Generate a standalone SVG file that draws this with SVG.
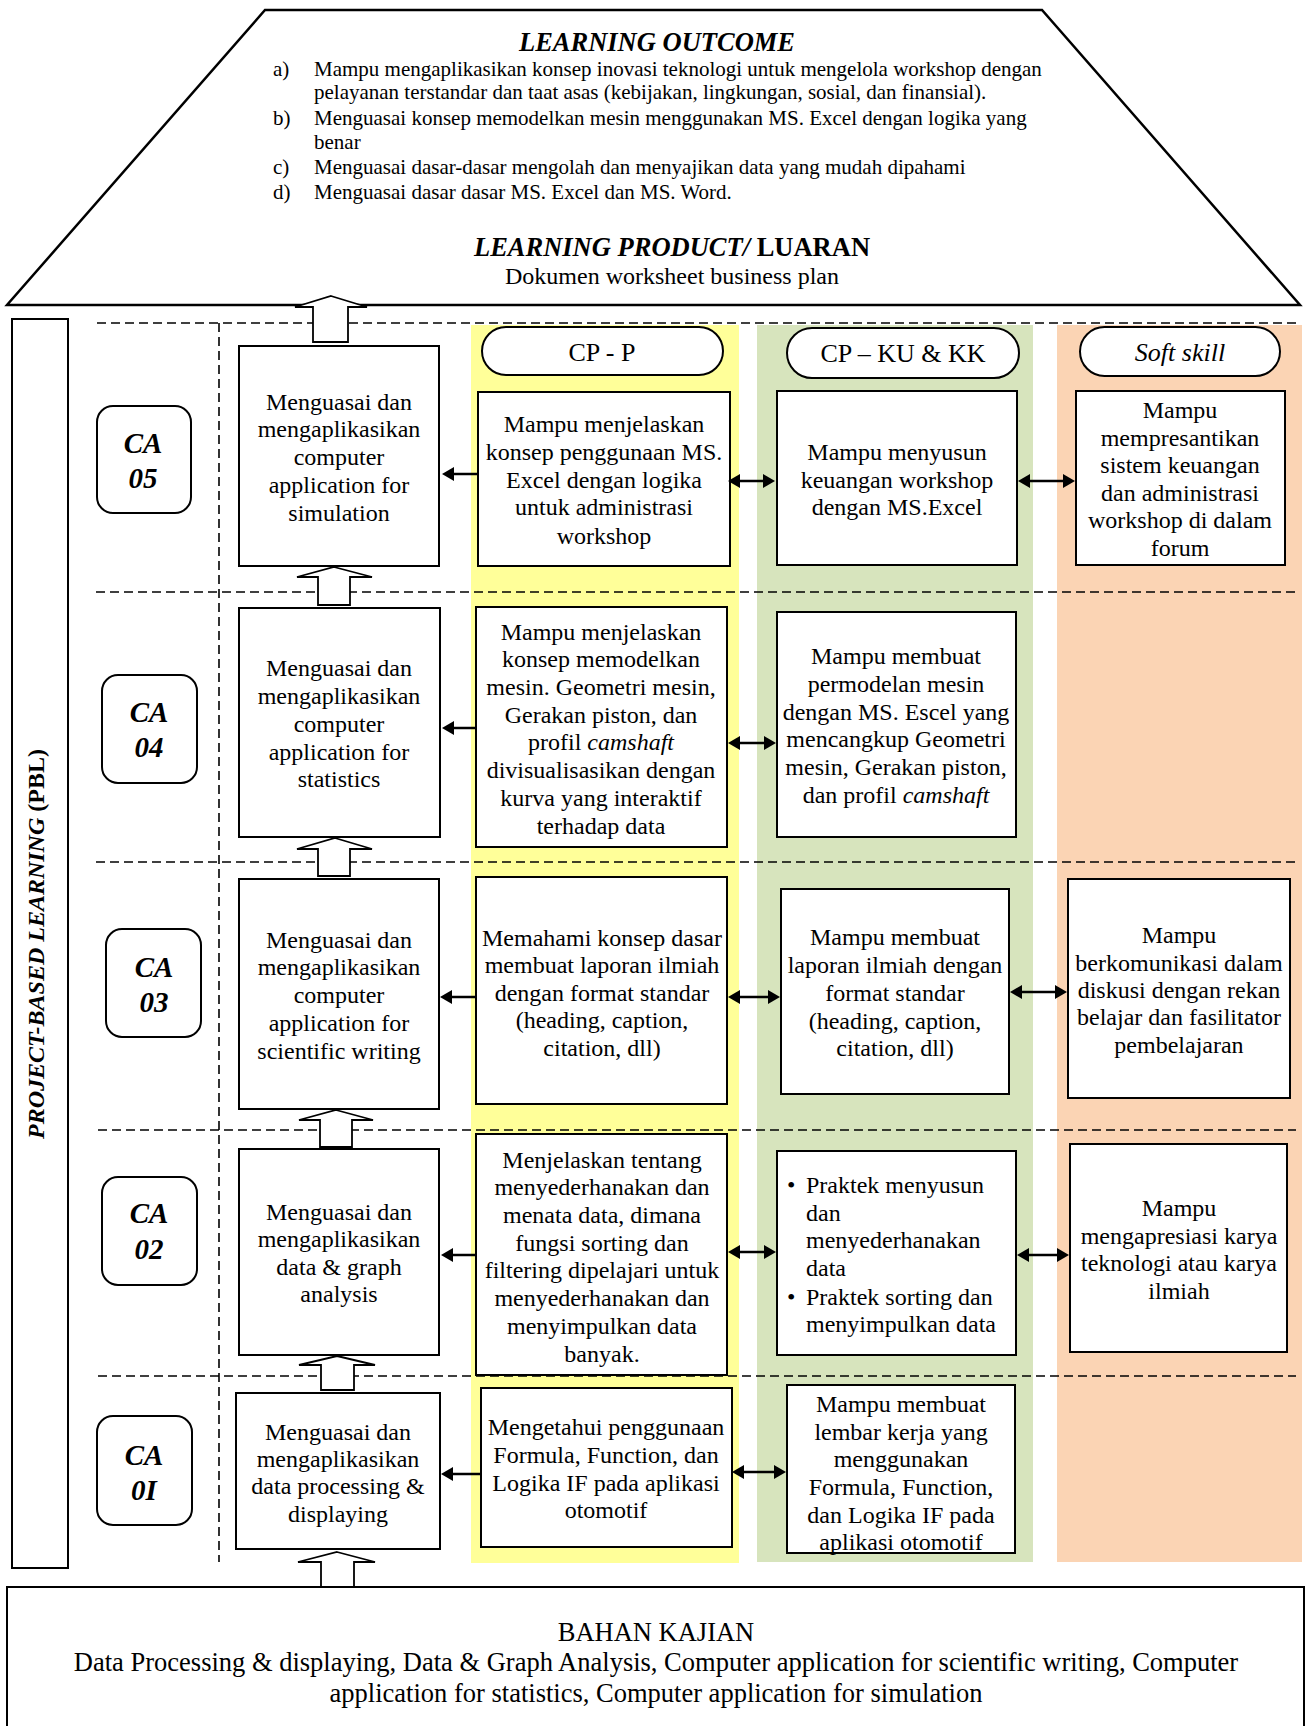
<svg xmlns="http://www.w3.org/2000/svg" width="1306" height="1726" viewBox="0 0 1306 1726">
<style>
text{font-family:"Liberation Serif","Times New Roman",serif;fill:#000}
.t{font-size:24px;text-anchor:middle}
.l{font-size:24px}
.li{font-size:21px}
.ttl{font-size:26.5px;font-weight:bold;text-anchor:middle}
.ca{font-size:29px;font-weight:bold;font-style:italic;text-anchor:middle}
.pill-t{font-size:26px;text-anchor:middle}
.box{fill:#fff;stroke:#000;stroke-width:2}
.cab{fill:#fff;stroke:#000;stroke-width:2}
.dash{fill:none;stroke:#000;stroke-width:1.6;stroke-dasharray:9 5}
.blk{fill:#fff;stroke:#000;stroke-width:1.8;stroke-linejoin:miter}
.ar{fill:none;stroke:#000;stroke-width:2.5}
</style>
<defs>
<marker id="ah" viewBox="0 0 12 14" refX="6" refY="7" markerWidth="12" markerHeight="14" markerUnits="userSpaceOnUse" orient="auto-start-reverse">
<path d="M0,0 L12,7 L0,14 Z" fill="#000"/>
</marker>
</defs>

<!-- column backgrounds -->
<g id="columns">
<rect x="471" y="325" width="268" height="1238" fill="#FFFF99"/>
<rect x="757" y="325" width="276" height="1237" fill="#D7E4BD"/>
<rect x="1057" y="325" width="245" height="1237" fill="#FBD4B4"/>
</g>

<!-- dashed separators -->
<g id="separators">
<line class="dash" x1="97" y1="323" x2="1298" y2="323"/>
<line class="dash" x1="96" y1="592" x2="1298" y2="592"/>
<line class="dash" x1="96" y1="862" x2="1298" y2="862"/>
<line class="dash" x1="98" y1="1130" x2="1296" y2="1130"/>
<line class="dash" x1="98" y1="1376" x2="1296" y2="1376"/>
<line class="dash" x1="219" y1="323" x2="219" y2="1562"/>
</g>

<!-- top: learning outcome -->
<g id="learning-outcome">
<polygon points="265,10 1042,10 1300,305 7,305" fill="#fff" stroke="#000" stroke-width="2.5"/>
<text class="ttl" x="657" y="51" font-style="italic">LEARNING OUTCOME</text>
<text class="li" x="273" y="76">a)</text>
<text class="li" x="314" y="76">Mampu mengaplikasikan konsep inovasi teknologi untuk mengelola workshop dengan</text>
<text class="li" x="314" y="99">pelayanan terstandar dan taat asas (kebijakan, lingkungan, sosial, dan finansial).</text>
<text class="li" x="273" y="125">b)</text>
<text class="li" x="314" y="125">Menguasai konsep memodelkan mesin menggunakan MS. Excel dengan logika yang</text>
<text class="li" x="314" y="149">benar</text>
<text class="li" x="273" y="174">c)</text>
<text class="li" x="314" y="174">Menguasai dasar-dasar mengolah dan menyajikan data yang mudah dipahami</text>
<text class="li" x="273" y="199">d)</text>
<text class="li" x="314" y="199">Menguasai dasar dasar MS. Excel dan MS. Word.</text>
<text class="ttl" x="672" y="256"><tspan font-style="italic">LEARNING PRODUCT/</tspan> LUARAN</text>
<text class="t" x="672" y="284">Dokumen worksheet business plan</text>
</g>

<!-- PBL side bar -->
<g id="pbl">
<rect x="12" y="319" width="56" height="1249" fill="#fff" stroke="#000" stroke-width="2"/>
<text transform="translate(44,944) rotate(-90)" x="0" y="0" font-size="24" font-weight="bold" text-anchor="middle"><tspan font-style="italic">PROJECT-BASED LEARNING</tspan> (PBL)</text>
</g>

<!-- header pills -->
<g id="pill-cpp">
<rect x="482" y="327" width="241" height="48" rx="24" fill="#fff" stroke="#000" stroke-width="2"/>
<text class="pill-t" x="602" y="361">CP - P</text>
</g>
<g id="pill-cpku">
<rect x="787" y="328" width="232" height="50" rx="25" fill="#fff" stroke="#000" stroke-width="2"/>
<text class="pill-t" x="903" y="362">CP – KU &amp; KK</text>
</g>
<g id="pill-soft">
<rect x="1080" y="327" width="200" height="49" rx="24.5" fill="#fff" stroke="#000" stroke-width="2"/>
<text class="pill-t" x="1180" y="361" font-style="italic">Soft skill</text>
</g>

<!-- CA labels -->
<g id="ca05"><rect class="cab" x="97" y="406" width="94" height="107" rx="16"/><text class="ca" x="143" y="453">CA</text><text class="ca" x="143" y="488">05</text></g>
<g id="ca04"><rect class="cab" x="102" y="675" width="95" height="108" rx="16"/><text class="ca" x="149" y="722">CA</text><text class="ca" x="149" y="757">04</text></g>
<g id="ca03"><rect class="cab" x="106" y="929" width="95" height="108" rx="16"/><text class="ca" x="154" y="977">CA</text><text class="ca" x="154" y="1012">03</text></g>
<g id="ca02"><rect class="cab" x="102" y="1177" width="95" height="108" rx="16"/><text class="ca" x="149" y="1223">CA</text><text class="ca" x="149" y="1259">02</text></g>
<g id="ca01"><rect class="cab" x="97" y="1416" width="95" height="109" rx="16"/><text class="ca" x="144" y="1465">CA</text><text class="ca" x="144" y="1500">0I</text></g>

<!-- competency boxes -->
<g id="comp5"><rect class="box" x="239" y="346" width="200" height="220"/>
<text class="t" x="339" y="410">Menguasai dan</text><text class="t" x="339" y="437">mengaplikasikan</text><text class="t" x="339" y="465">computer</text><text class="t" x="339" y="493">application for</text><text class="t" x="339" y="521">simulation</text></g>
<g id="comp4"><rect class="box" x="239" y="608" width="201" height="229"/>
<text class="t" x="339" y="676">Menguasai dan</text><text class="t" x="339" y="704">mengaplikasikan</text><text class="t" x="339" y="732">computer</text><text class="t" x="339" y="760">application for</text><text class="t" x="339" y="787">statistics</text></g>
<g id="comp3"><rect class="box" x="239" y="879" width="200" height="230"/>
<text class="t" x="339" y="948">Menguasai dan</text><text class="t" x="339" y="975">mengaplikasikan</text><text class="t" x="339" y="1003">computer</text><text class="t" x="339" y="1031">application for</text><text class="t" x="339" y="1059">scientific writing</text></g>
<g id="comp2"><rect class="box" x="239" y="1149" width="200" height="206"/>
<text class="t" x="339" y="1220">Menguasai dan</text><text class="t" x="339" y="1247">mengaplikasikan</text><text class="t" x="339" y="1275">data &amp; graph</text><text class="t" x="339" y="1302">analysis</text></g>
<g id="comp1"><rect class="box" x="236" y="1393" width="204" height="156"/>
<text class="t" x="338" y="1440">Menguasai dan</text><text class="t" x="338" y="1467">mengaplikasikan</text><text class="t" x="338" y="1494">data processing &amp;</text><text class="t" x="338" y="1522">displaying</text></g>

<!-- CP-P boxes -->
<g id="cpp5"><rect class="box" x="478" y="392" width="252" height="174"/>
<text class="t" x="604" y="432">Mampu menjelaskan</text><text class="t" x="604" y="460">konsep penggunaan MS.</text><text class="t" x="604" y="488">Excel dengan logika</text><text class="t" x="604" y="515">untuk administrasi</text><text class="t" x="604" y="544">workshop</text></g>
<g id="cpp4"><rect class="box" x="476" y="607" width="251" height="240"/>
<text class="t" x="601" y="640">Mampu menjelaskan</text><text class="t" x="601" y="667">konsep memodelkan</text><text class="t" x="601" y="695">mesin. Geometri mesin,</text><text class="t" x="601" y="723">Gerakan piston, dan</text><text class="t" x="601" y="750">profil <tspan font-style="italic">camshaft</tspan></text><text class="t" x="601" y="778">divisualisasikan dengan</text><text class="t" x="601" y="806">kurva yang interaktif</text><text class="t" x="601" y="834">terhadap data</text></g>
<g id="cpp3"><rect class="box" x="476" y="877" width="251" height="227"/>
<text class="t" x="602" y="946">Memahami konsep dasar</text><text class="t" x="602" y="973">membuat laporan ilmiah</text><text class="t" x="602" y="1001">dengan format standar</text><text class="t" x="602" y="1028">(heading, caption,</text><text class="t" x="602" y="1056">citation, dll)</text></g>
<g id="cpp2"><rect class="box" x="476" y="1134" width="251" height="241"/>
<text class="t" x="602" y="1168">Menjelaskan tentang</text><text class="t" x="602" y="1195">menyederhanakan dan</text><text class="t" x="602" y="1223">menata data, dimana</text><text class="t" x="602" y="1251">fungsi sorting dan</text><text class="t" x="602" y="1278">filtering dipelajari untuk</text><text class="t" x="602" y="1306">menyederhanakan dan</text><text class="t" x="602" y="1334">menyimpulkan data</text><text class="t" x="602" y="1362">banyak.</text></g>
<g id="cpp1"><rect class="box" x="481" y="1388" width="251" height="159"/>
<text class="t" x="606" y="1435">Mengetahui penggunaan</text><text class="t" x="606" y="1463">Formula, Function, dan</text><text class="t" x="606" y="1491">Logika IF pada aplikasi</text><text class="t" x="606" y="1518">otomotif</text></g>

<!-- CP-KU & KK boxes -->
<g id="cpku5"><rect class="box" x="777" y="391" width="240" height="174"/>
<text class="t" x="897" y="460">Mampu menyusun</text><text class="t" x="897" y="488">keuangan workshop</text><text class="t" x="897" y="515">dengan MS.Excel</text></g>
<g id="cpku4"><rect class="box" x="777" y="612" width="239" height="225"/>
<text class="t" x="896" y="664">Mampu membuat</text><text class="t" x="896" y="692">permodelan mesin</text><text class="t" x="896" y="720">dengan MS. Escel yang</text><text class="t" x="896" y="747">mencangkup Geometri</text><text class="t" x="896" y="775">mesin, Gerakan piston,</text><text class="t" x="896" y="803">dan profil <tspan font-style="italic">camshaft</tspan></text></g>
<g id="cpku3"><rect class="box" x="781" y="889" width="228" height="205"/>
<text class="t" x="895" y="945">Mampu membuat</text><text class="t" x="895" y="973">laporan ilmiah dengan</text><text class="t" x="895" y="1001">format standar</text><text class="t" x="895" y="1029">(heading, caption,</text><text class="t" x="895" y="1056">citation, dll)</text></g>
<g id="cpku2"><rect class="box" x="777" y="1151" width="239" height="204"/>
<text class="l" x="787" y="1193">•</text><text class="l" x="806" y="1193">Praktek menyusun</text><text class="l" x="806" y="1221">dan</text><text class="l" x="806" y="1248">menyederhanakan</text><text class="l" x="806" y="1276">data</text>
<text class="l" x="787" y="1305">•</text><text class="l" x="806" y="1305">Praktek sorting dan</text><text class="l" x="806" y="1332">menyimpulkan data</text></g>
<g id="cpku1"><rect class="box" x="787" y="1385" width="228" height="168"/>
<text class="t" x="901" y="1412">Mampu membuat</text><text class="t" x="901" y="1440">lembar kerja yang</text><text class="t" x="901" y="1467">menggunakan</text><text class="t" x="901" y="1495">Formula, Function,</text><text class="t" x="901" y="1523">dan Logika IF pada</text><text class="t" x="901" y="1550">aplikasi otomotif</text></g>

<!-- Soft skill boxes -->
<g id="soft5"><rect class="box" x="1076" y="391" width="209" height="174"/>
<text class="t" x="1180" y="418">Mampu</text><text class="t" x="1180" y="446">mempresantikan</text><text class="t" x="1180" y="473">sistem keuangan</text><text class="t" x="1180" y="501">dan administrasi</text><text class="t" x="1180" y="528">workshop di dalam</text><text class="t" x="1180" y="556">forum</text></g>
<g id="soft3"><rect class="box" x="1068" y="879" width="222" height="219"/>
<text class="t" x="1179" y="943">Mampu</text><text class="t" x="1179" y="971">berkomunikasi dalam</text><text class="t" x="1179" y="998">diskusi dengan rekan</text><text class="t" x="1179" y="1025">belajar dan fasilitator</text><text class="t" x="1179" y="1053">pembelajaran</text></g>
<g id="soft2"><rect class="box" x="1070" y="1144" width="217" height="208"/>
<text class="t" x="1179" y="1216">Mampu</text><text class="t" x="1179" y="1244">mengapresiasi karya</text><text class="t" x="1179" y="1271">teknologi atau karya</text><text class="t" x="1179" y="1299">ilmiah</text></g>

<!-- bottom: bahan kajian -->
<g id="bahan-kajian">
<rect x="7" y="1587" width="1297" height="160" fill="#fff" stroke="#000" stroke-width="2"/>
<text x="656" y="1641" font-size="26.5" text-anchor="middle">BAHAN KAJIAN</text>
<text x="656" y="1671" font-size="26.5" text-anchor="middle">Data Processing &amp; displaying, Data &amp; Graph Analysis, Computer application for scientific writing, Computer</text>
<text x="656" y="1702" font-size="26.5" text-anchor="middle">application for statistics, Computer application for simulation</text>
</g>

<!-- connectors -->
<g id="connectors">
<path class="blk" d="M331,296 L367,307 L348,307 L348,342 L313,342 L313,307 L295,307 Z"/>
<path class="blk" d="M334,567 L372,577 L350,577 L350,605 L318,605 L318,577 L297,577 Z"/>
<path class="blk" d="M335,838 L372,849 L350,849 L350,876 L318,876 L318,849 L297,849 Z"/>
<path class="blk" d="M336,1110 L373,1120 L352,1120 L352,1147 L320,1147 L320,1120 L299,1120 Z"/>
<path class="blk" d="M337,1356 L375,1365 L354,1365 L354,1390 L321,1390 L321,1365 L299,1365 Z"/>
<path class="blk" d="M337,1552 L375,1562 L354,1562 L354,1587 L321,1587 L321,1562 L298,1562 Z"/>

<line class="ar" x1="477" y1="474" x2="448" y2="474" marker-end="url(#ah)"/>
<line class="ar" x1="476" y1="728" x2="448" y2="728" marker-end="url(#ah)"/>
<line class="ar" x1="476" y1="997" x2="446" y2="997" marker-end="url(#ah)"/>
<line class="ar" x1="476" y1="1255" x2="447" y2="1255" marker-end="url(#ah)"/>
<line class="ar" x1="481" y1="1474" x2="447" y2="1474" marker-end="url(#ah)"/>

<line class="ar" x1="734" y1="481" x2="769" y2="481" marker-start="url(#ah)" marker-end="url(#ah)"/>
<line class="ar" x1="1024" y1="481" x2="1069" y2="481" marker-start="url(#ah)" marker-end="url(#ah)"/>
<line class="ar" x1="734" y1="743" x2="770" y2="743" marker-start="url(#ah)" marker-end="url(#ah)"/>
<line class="ar" x1="734" y1="997" x2="774" y2="997" marker-start="url(#ah)" marker-end="url(#ah)"/>
<line class="ar" x1="1016" y1="992" x2="1061" y2="992" marker-start="url(#ah)" marker-end="url(#ah)"/>
<line class="ar" x1="734" y1="1252" x2="770" y2="1252" marker-start="url(#ah)" marker-end="url(#ah)"/>
<line class="ar" x1="1023" y1="1255" x2="1063" y2="1255" marker-start="url(#ah)" marker-end="url(#ah)"/>
<line class="ar" x1="738" y1="1472" x2="780" y2="1472" marker-start="url(#ah)" marker-end="url(#ah)"/>
</g>
</svg>
